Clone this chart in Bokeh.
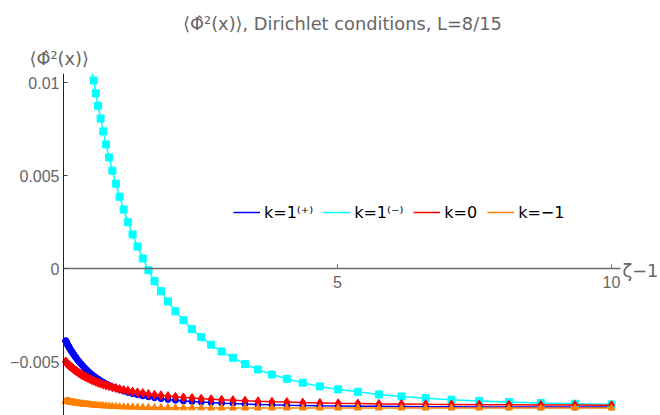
from bokeh.plotting import figure
from bokeh.models import Range1d, LinearAxis, FixedTicker, Label, Legend, LegendItem, BoxAnnotation
from bokeh.embed import file_html
from bokeh.resources import INLINE

# sample points in zeta - 1 (shared by all four series)
zeta_minus_1 = [
    0.040, 0.043, 0.046, 0.049, 0.053, 0.056, 0.060, 0.065, 0.069, 0.074,
    0.080, 0.085, 0.091, 0.098, 0.105, 0.112, 0.120, 0.129, 0.138, 0.148,
    0.159, 0.170, 0.182, 0.195, 0.209, 0.224, 0.240, 0.257, 0.276, 0.295,
    0.317, 0.339, 0.363, 0.389, 0.417, 0.447, 0.479, 0.513, 0.550, 0.589,
    0.631, 0.677, 0.725, 0.777, 0.832, 0.892, 0.956, 1.024, 1.097, 1.176,
    1.260, 1.350, 1.446, 1.550, 1.661, 1.779, 1.906, 2.043, 2.189, 2.345,
    2.513, 2.693, 2.885, 3.091, 3.312, 3.549, 3.803, 4.075, 4.366, 4.678,
    5.013, 5.371, 5.755, 6.167, 6.608, 7.080, 7.586, 8.129, 8.710, 9.333,
    10.000,
]

# <Phi^2(x)> for k = 1 (+)
phi2_k1_plus = [
    -0.00388, -0.00390, -0.00392, -0.00394, -0.00396, -0.00398, -0.00401, -0.00403, -0.00406, -0.00409,
    -0.00412, -0.00415, -0.00418, -0.00421, -0.00425, -0.00428, -0.00432, -0.00437, -0.00441, -0.00445,
    -0.00450, -0.00455, -0.00460, -0.00466, -0.00472, -0.00478, -0.00484, -0.00491, -0.00498, -0.00505,
    -0.00512, -0.00519, -0.00527, -0.00535, -0.00543, -0.00552, -0.00560, -0.00569, -0.00577, -0.00586,
    -0.00594, -0.00603, -0.00612, -0.00620, -0.00628, -0.00637, -0.00644, -0.00652, -0.00659, -0.00666,
    -0.00673, -0.00679, -0.00685, -0.00690, -0.00695, -0.00700, -0.00704, -0.00708, -0.00712, -0.00715,
    -0.00718, -0.00721, -0.00724, -0.00726, -0.00729, -0.00731, -0.00733, -0.00735, -0.00736, -0.00738,
    -0.00739, -0.00740, -0.00741, -0.00742, -0.00743, -0.00743, -0.00744, -0.00745, -0.00745, -0.00745,
    -0.00745,
]

# <Phi^2(x)> for k = 1 (-), starting just above the top of the plotted range
zeta_minus_1_k1_minus = zeta_minus_1[37:]
phi2_k1_minus = [
    0.01080, 0.01011, 0.00942, 0.00875, 0.00806, 0.00737, 0.00667, 0.00597, 0.00526, 0.00456,
    0.00386, 0.00317, 0.00249, 0.00183, 0.00118, 0.00054, -0.00009, -0.00068, -0.00122, -0.00177,
    -0.00230, -0.00278, -0.00326, -0.00369, -0.00410, -0.00446, -0.00480, -0.00514, -0.00543, -0.00570,
    -0.00593, -0.00614, -0.00634, -0.00650, -0.00663, -0.00677, -0.00688, -0.00697, -0.00705, -0.00712,
    -0.00718, -0.00723, -0.00727, -0.00731,
]

# <Phi^2(x)> for k = 0
phi2_k0 = [
    -0.00501, -0.00502, -0.00503, -0.00504, -0.00506, -0.00507, -0.00508, -0.00510, -0.00511, -0.00513,
    -0.00514, -0.00516, -0.00517, -0.00519, -0.00521, -0.00523, -0.00525, -0.00527, -0.00529, -0.00532,
    -0.00534, -0.00537, -0.00540, -0.00543, -0.00546, -0.00549, -0.00553, -0.00556, -0.00560, -0.00564,
    -0.00568, -0.00572, -0.00576, -0.00580, -0.00585, -0.00589, -0.00594, -0.00599, -0.00604, -0.00609,
    -0.00614, -0.00619, -0.00624, -0.00629, -0.00633, -0.00639, -0.00643, -0.00648, -0.00653, -0.00657,
    -0.00662, -0.00666, -0.00670, -0.00675, -0.00679, -0.00682, -0.00686, -0.00690, -0.00693, -0.00696,
    -0.00700, -0.00703, -0.00706, -0.00708, -0.00711, -0.00714, -0.00716, -0.00718, -0.00721, -0.00723,
    -0.00725, -0.00726, -0.00728, -0.00729, -0.00730, -0.00731, -0.00732, -0.00733, -0.00734, -0.00734,
    -0.00735,
]

# <Phi^2(x)> for k = -1
phi2_km1 = [
    -0.00713, -0.00713, -0.00713, -0.00713, -0.00713, -0.00714, -0.00714, -0.00714, -0.00714, -0.00715,
    -0.00715, -0.00715, -0.00716, -0.00716, -0.00717, -0.00717, -0.00717, -0.00718, -0.00718, -0.00719,
    -0.00719, -0.00720, -0.00721, -0.00721, -0.00722, -0.00723, -0.00723, -0.00724, -0.00725, -0.00726,
    -0.00727, -0.00728, -0.00728, -0.00729, -0.00730, -0.00731, -0.00732, -0.00733, -0.00734, -0.00735,
    -0.00736, -0.00737, -0.00738, -0.00739, -0.00740, -0.00741, -0.00742, -0.00743, -0.00744, -0.00745,
    -0.00745, -0.00746, -0.00747, -0.00747, -0.00748, -0.00748, -0.00748, -0.00749, -0.00749, -0.00749,
    -0.00749, -0.00750, -0.00750, -0.00750, -0.00750, -0.00750, -0.00750, -0.00750, -0.00750, -0.00750,
    -0.00750, -0.00750, -0.00750, -0.00750, -0.00750, -0.00750, -0.00750, -0.00750, -0.00750, -0.00750,
    -0.00750,
]

x_ticks = [5, 10]
y_ticks = [-0.005, 0, 0.005, 0.01]
y_tick_labels = {-0.005: "\u22120.005", 0: "0", 0.005: "0.005", 0.01: "0.01"}

legend_labels = ["k=1\u207d\u207a\u207e", "k=1\u207d\u207b\u207e", "k=0", "k=\u22121"]
title_text = "\u27e8\u03a6\u0302\u00b2(x)\u27e9, Dirichlet conditions, L=8/15"
y_label_text = "\u27e8\u03a6\u0302\u00b2(x)\u27e9"
x_label_text = "\u03b6\u22121"

# visible extent of the curves and of the axis lines
X_MAX = 10.164
Y_MIN, Y_MAX = -0.0079, 0.010484

FONT = "DejaVu Sans"
TICK_FONT = "Liberation Sans"
GRAY = "#666666"

# the frame fills the whole canvas; the axes cross at the origin inside it
p = figure(
    width=660, height=415,
    x_range=Range1d(-1.1496, 10.894), y_range=Range1d(-0.0079032, 0.014409),
    x_axis_type=None, y_axis_type=None,
    output_backend="svg", toolbar_location=None,
    min_border_left=0, min_border_right=0, min_border_top=0, min_border_bottom=0,
)
p.outline_line_color = None
p.background_fill_color = "white"
p.border_fill_color = "white"

xaxis = LinearAxis(fixed_location=0, bounds=(0, X_MAX),
                   ticker=FixedTicker(ticks=x_ticks, minor_ticks=[]))
xaxis.axis_line_color = "#6b6b6b"
xaxis.axis_line_width = 1.5
xaxis.major_tick_line_color = "#6b6b6b"
xaxis.major_tick_in = 4
xaxis.major_tick_out = 0
xaxis.minor_tick_line_color = None
xaxis.major_label_standoff = 7
xaxis.major_label_text_font = TICK_FONT
xaxis.major_label_text_font_size = "16px"
xaxis.major_label_text_color = GRAY
p.add_layout(xaxis, "below")

yaxis = LinearAxis(fixed_location=0, bounds=(Y_MIN, Y_MAX),
                   ticker=FixedTicker(ticks=y_ticks, minor_ticks=[]))
yaxis.axis_line_color = "#222222"
yaxis.axis_line_width = 1
yaxis.major_tick_line_color = "#444444"
yaxis.major_tick_in = 4
yaxis.major_tick_out = 0
yaxis.minor_tick_line_color = None
yaxis.major_label_standoff = 4
yaxis.major_label_text_font = TICK_FONT
yaxis.major_label_text_font_size = "16px"
yaxis.major_label_text_color = GRAY
yaxis.major_label_overrides = y_tick_labels
p.add_layout(yaxis, "left")

# data: joined lines with markers
BLUE, CYAN, RED, ORANGE = "#0000ff", "#00ffff", "#ff0000", "#ff8000"

l_blue = p.line(zeta_minus_1, phi2_k1_plus, line_color=BLUE, line_width=1.5)
p.scatter(zeta_minus_1, phi2_k1_plus, marker="circle", size=6, color=BLUE)

l_cyan = p.line(zeta_minus_1_k1_minus, phi2_k1_minus, line_color=CYAN, line_width=1.5)
p.scatter(zeta_minus_1_k1_minus, phi2_k1_minus, marker="square", size=7, color=CYAN)

l_red = p.line(zeta_minus_1, phi2_k0, line_color=RED, line_width=1.5)
p.scatter(zeta_minus_1, phi2_k0, marker="diamond", size=9, color=RED)

l_orange = p.line(zeta_minus_1, phi2_km1, line_color=ORANGE, line_width=1.5)
p.scatter(zeta_minus_1, phi2_km1, marker="triangle", size=7, color=ORANGE)

# clip everything above the plotted range
p.add_layout(BoxAnnotation(left=0, bottom=Y_MAX, fill_color="white", fill_alpha=1,
                           line_color=None))

legend = Legend(
    items=[LegendItem(label=t, renderers=[r]) for t, r in
           zip(legend_labels, [l_blue, l_cyan, l_red, l_orange])],
    orientation="horizontal",
    location=(233, 193),
    border_line_color=None,
    background_fill_alpha=0,
    padding=0, margin=0, spacing=10,
    glyph_width=27, glyph_height=20, label_standoff=4, label_height=20,
    label_text_font=FONT, label_text_font_size="16px", label_text_color="black",
)
p.add_layout(legend)

# title and axis labels
p.add_layout(Label(x=5.09, y=0.01317, text=title_text,
                   text_font=FONT, text_font_size="17.8px", text_color=GRAY,
                   text_baseline="alphabetic", text_align="center"))
p.add_layout(Label(x=-0.620, y=0.01129, text=y_label_text,
                   text_font=FONT, text_font_size="17.8px", text_color=GRAY,
                   text_baseline="alphabetic", text_align="left"))
p.add_layout(Label(x=10.20, y=-0.0001, text=x_label_text,
                   text_font=FONT, text_font_size="17.8px", text_color=GRAY,
                   text_baseline="middle", text_align="left"))

open("out.html", "w").write(file_html(p, INLINE))
